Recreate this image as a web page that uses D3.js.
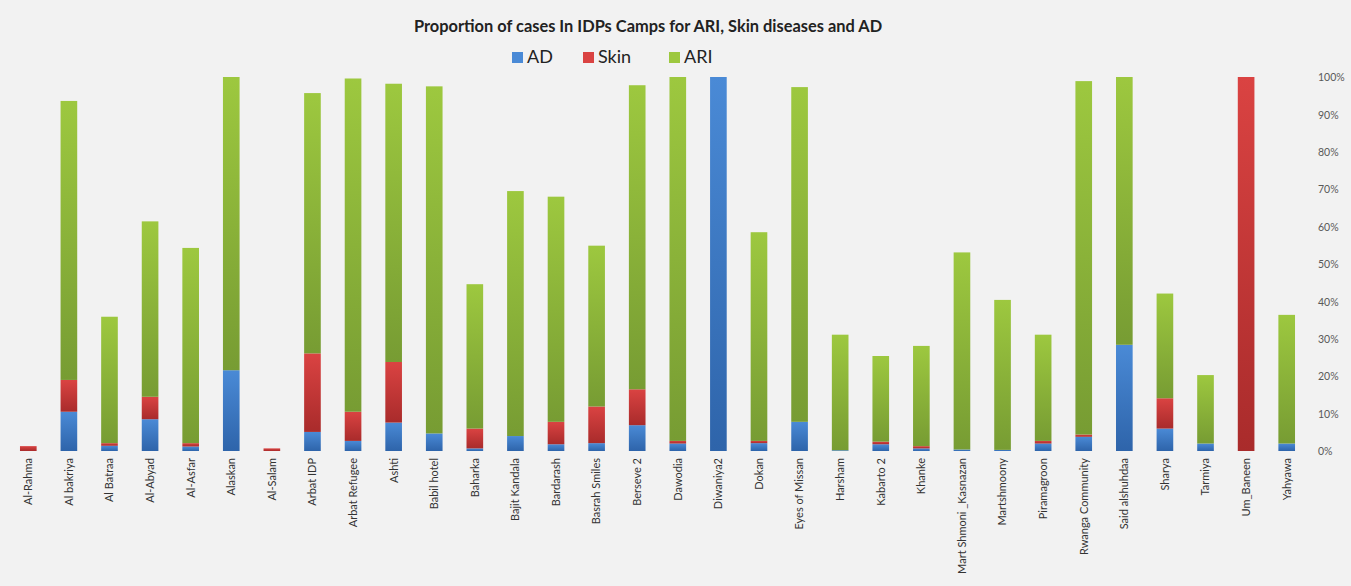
<!DOCTYPE html>
<html lang="en">
<head>
<meta charset="UTF-8">
<title>Proportion of cases In IDPs Camps</title>
<script src="https://d3js.org/d3.v7.min.js"></script>
<style>
  html, body { margin: 0; padding: 0; background: #f2f2f2; }
  svg { display: block; }
</style>
</head>
<body>
<div id="chart"></div>
<script>
// camps, in chart order
const camps = ["Al-Rahma", "Al bakriya", "Al Batraa", "Al-Abyad", "Al-Asfar", "Alaskan", "Al-Salam",
  "Arbat IDP", "Arbat Refugee", "Ashti", "Babil hotel", "Baharka", "Bajit Kandala", "Bardarash",
  "Basrah Smiles", "Berseve 2", "Dawodia", "Diwaniya2", "Dokan", "Eyes of Missan", "Harsham",
  "Kabarto 2", "Khanke", "Mart Shmoni _Kasnazan", "Martshmoony", "Piramagroon", "Rwanga Community",
  "Said alshuhdaa", "Sharya", "Tarmiya", "Um_Baneen", "Yahyawa"];

// proportions in %
const adValues   = [0, 10.5, 1.4, 8.5, 1.2, 21.6, 0, 5.1, 2.7, 7.6, 4.7, 0.7, 4.0, 1.8, 2.1, 6.9,
  2.0, 100, 2.1, 7.8, 0.2, 1.8, 0.7, 0.4, 0.3, 2.0, 3.8, 28.4, 6.0, 2.0, 0, 2.0];
const skinValues = [1.3, 8.5, 0.7, 6.0, 0.9, 0, 0.7, 21.0, 7.8, 16.2, 0, 5.3, 0, 6.0, 9.8, 9.6,
  0.7, 0, 0.6, 0, 0, 0.7, 0.6, 0, 0, 0.7, 0.6, 0, 8.1, 0, 100, 0];
const ariValues  = [0, 74.6, 33.8, 46.9, 52.2, 78.4, 0, 69.6, 89.1, 74.4, 92.8, 38.6, 65.5, 60.2, 43.0, 81.3,
  97.3, 0, 55.8, 89.5, 30.9, 22.9, 26.8, 52.7, 40.1, 28.4, 94.5, 71.6, 28.0, 18.3, 0, 34.4];

const seriesNames = ["AD", "Skin", "ARI"];
const yTicks = [0, 10, 20, 30, 40, 50, 60, 70, 80, 90, 100];

const W = 1351, H = 586;
const plot = {left: 8, right: 1307, top: 77, bottom: 451};

const svg = d3.select("#chart").append("svg")
  .attr("width", W).attr("height", H);

svg.append("rect").attr("width", W).attr("height", H).attr("fill", "#f2f2f2");

// gradients like the excel fill
const colors = {
  AD:   ["#4a8ad6", "#2e64aa"],
  Skin: ["#da4342", "#a92b2b"],
  ARI:  ["#9dc83f", "#779c33"]
};
const defs = svg.append("defs");
seriesNames.forEach(s => {
  const g = defs.append("linearGradient").attr("id", "grad-" + s)
    .attr("x1", 0).attr("y1", 0).attr("x2", 0).attr("y2", 1);
  g.append("stop").attr("offset", "0%").attr("stop-color", colors[s][0]);
  g.append("stop").attr("offset", "100%").attr("stop-color", colors[s][1]);
});

const rows = camps.map((c, i) => ({camp: c, AD: adValues[i], Skin: skinValues[i], ARI: ariValues[i]}));
const stacked = d3.stack().keys(seriesNames)(rows);

const x = d3.scaleBand()
  .domain(camps)
  .range([plot.left, plot.right])
  .paddingInner(0.59)
  .paddingOuter(0.295);

const y = d3.scaleLinear()
  .domain([0, 100])
  .range([plot.bottom, plot.top]);

// bars
svg.append("g").selectAll("g")
  .data(stacked)
  .join("g")
    .attr("fill", d => `url(#grad-${d.key})`)
  .selectAll("rect")
  .data(d => d.filter(p => p[1] - p[0] > 0))
  .join("rect")
    .attr("x", d => x(d.data.camp))
    .attr("y", d => y(d[1]))
    .attr("width", x.bandwidth())
    .attr("height", d => y(d[0]) - y(d[1]));

// y axis on the right
const yAxis = svg.append("g")
  .attr("transform", `translate(${plot.right + 11},0)`)
  .call(d3.axisRight(y).tickValues(yTicks).tickSize(0).tickFormat(d => d + "%"));
yAxis.select(".domain").remove();
yAxis.selectAll("text")
  .attr("x", 0)
  .attr("dy", "0.35em")
  .style("font-family", "Lato, 'Open Sans', sans-serif")
  .style("font-size", "10.5px")
  .attr("fill", "#595959");

// x axis labels, rotated
const xAxis = svg.append("g")
  .attr("transform", `translate(0,${plot.bottom})`)
  .call(d3.axisBottom(x).tickSize(0));
xAxis.select(".domain").remove();
xAxis.selectAll("text")
  .attr("transform", "translate(0,7)rotate(-90)")
  .attr("x", 0).attr("y", 0).attr("dy", "0.35em")
  .style("text-anchor", "end")
  .style("font-family", "Lato, 'Open Sans', sans-serif")
  .style("font-size", "11px")
  .attr("fill", "#333");

// title
svg.append("text")
  .attr("x", 648).attr("y", 32)
  .attr("text-anchor", "middle")
  .style("font-family", "Lato, 'Open Sans', sans-serif")
  .style("font-weight", "bold")
  .style("font-size", "16.4px")
  .attr("fill", "#222")
  .text("Proportion of cases In IDPs Camps for ARI, Skin diseases and AD");

// legend
const legendX = [512, 583, 669];
const legend = svg.append("g");
seriesNames.forEach((s, i) => {
  legend.append("rect")
    .attr("x", legendX[i]).attr("y", 52)
    .attr("width", 11).attr("height", 11)
    .attr("fill", colors[s][0]);
  legend.append("text")
    .attr("x", legendX[i] + 15).attr("y", 63)
    .style("font-family", "Lato, 'Open Sans', sans-serif")
    .style("font-size", "18px")
    .attr("fill", "#222")
    .text(s);
});
</script>
</body>
</html>
